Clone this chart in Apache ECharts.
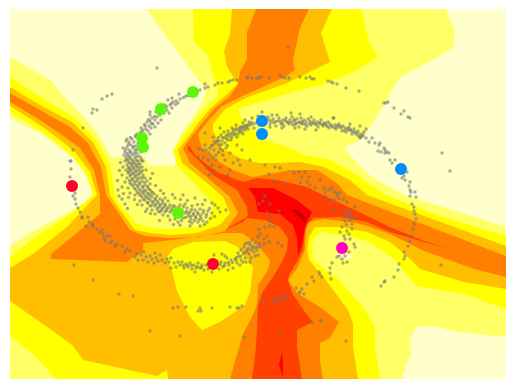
<!DOCTYPE html>
<html><head><meta charset="utf-8">
<style>html,body{margin:0;padding:0;background:#fff}#c{width:515px;height:389px}</style>
<script src="https://cdn.jsdelivr.net/npm/echarts@6/dist/echarts.min.js"></script>
</head><body><div id="c"></div>
<script>
// filled contour bands, painted from lowest level to highest
var bandBase=[[10,9],[506,9],[506,379],[10,379]];
var lightTopLeft=[[10,9],[147,9],[158,25],[165,35],[185,62],[195,76],[203,86],[206,94],[198,109],[190,122],[182,132],[175,148],[175,166],[148,165],[145,157],[123,157],[113,158],[107,150],[97,133],[85,118],[70,103],[50,80],[10,57]];
var lightRight=[[446,9],[506,9],[506,227],[404,195],[372,177],[357,163],[344,148],[357,142],[367,132],[385,103],[400,77],[427,63],[453,48],[455,32]];
var lightLeft=[[10,118],[43,135],[63,150],[80,163],[88,178],[92,195],[83,204],[60,217],[33,231],[10,246]];
var lightBottom=[[506,337],[457,332],[434,326],[417,327],[410,337],[411,354],[402,376],[404,379],[506,379]];
var lightMagenta=[[329,250],[337,254],[352,255],[352,258],[340,258]];
var yellowMain=[[193,9],[361,9],[364,22],[369,42],[378,57],[354,72],[320,85],[290,93],[257,103],[238,109],[240,116],[262,139],[290,148],[304,155],[330,160],[354,173],[385,195],[440,216],[506,236],[506,309],[464,294],[417,286],[409,277],[397,262],[385,252],[367,241],[344,235],[320,232],[315,237],[311,246],[313,260],[337,278],[363,307],[375,327],[375,347],[380,379],[56,379],[33,354],[10,336],[10,258],[30,241],[73,212],[94,195],[86,174],[72,156],[60,145],[40,130],[10,112],[10,77],[40,97],[75,118],[97,140],[110,165],[115,195],[120,205],[137,224],[155,229],[173,229],[197,227],[205,223],[213,210],[210,200],[177,165],[173,150],[184,136],[194,122],[205,109],[218,96],[218,89],[211,69],[208,56],[194,41]];
var orangeLightMain=[[232,9],[332,9],[321,33],[330,62],[285,84],[248,97],[225,109],[213,124],[213,131],[223,149],[240,158],[258,163],[277,163],[300,162],[324,167],[350,180],[367,195],[506,246],[506,289],[464,282],[420,269],[407,256],[390,242],[367,232],[340,227],[315,227],[309,237],[307,250],[309,260],[328,283],[348,310],[353,323],[353,347],[358,379],[168,379],[167,370],[157,376],[83,360],[73,346],[57,334],[33,317],[10,301],[10,268],[33,254],[67,227],[97,195],[90,172],[76,153],[63,142],[40,125],[10,106],[10,87],[40,105],[72,122],[93,142],[106,167],[110,195],[120,210],[135,230],[150,233],[170,235],[197,233],[220,225],[230,213],[223,197],[207,183],[182,163],[178,150],[189,136],[199,122],[210,109],[225,96],[238,84],[227,67],[224,51],[230,34]];
var yellowPatch=[[167,257],[173,249],[193,242],[225,241],[238,247],[253,267],[250,292],[245,305],[220,322],[202,330],[190,317],[177,291],[172,271]];
var orangeMain=[[256,9],[309,9],[300,28],[293,60],[295,70],[285,77],[247,94],[222,106],[207,122],[198,134],[202,149],[216,160],[233,170],[253,177],[290,170],[317,170],[337,183],[347,195],[506,256],[506,277],[474,269],[424,251],[390,234],[370,227],[357,223],[324,219],[309,222],[306,230],[305,250],[298,267],[288,280],[297,293],[320,307],[339,322],[330,338],[320,343],[320,360],[323,379],[230,379],[237,354],[243,334],[252,317],[257,305],[258,285],[268,270],[270,260],[255,242],[242,233],[225,233],[173,240],[143,243],[143,252],[133,257],[127,262],[51,259],[51,254],[100,214],[100,195],[94,170],[80,148],[65,137],[40,120],[10,102],[10,93],[40,110],[70,127],[88,143],[101,167],[106,195],[120,215],[130,230],[145,236],[168,238],[200,237],[225,231],[238,213],[230,197],[210,180],[190,163],[183,148],[192,136],[203,122],[214,109],[230,96],[238,84],[240,72],[247,59],[247,32]];
var redOrangeMain=[[188,145],[197,157],[217,172],[243,182],[257,178],[277,180],[307,187],[323,195],[357,211],[390,227],[424,241],[449,248],[424,242],[390,232],[367,222],[340,217],[314,218],[307,224],[305,231],[304,240],[303,250],[297,262],[290,273],[288,280],[292,293],[305,312],[313,322],[297,330],[297,347],[302,379],[252,379],[255,357],[257,330],[258,305],[262,293],[273,277],[282,262],[287,250],[288,238],[280,227],[265,220],[245,218],[238,222],[225,230],[243,222],[248,215],[247,207],[237,190],[213,175],[188,150]];
var redMain=[[248,188],[273,188],[297,200],[312,212],[305,227],[302,245],[298,256],[297,238],[293,225],[280,214],[258,212],[255,197]];
var redSliver=[[282,352],[283,363],[283,378],[279,365],[281,357]];
var darkPatch=[[291,210],[297,210],[306,217],[305,223],[300,217]];
var bandColors={base:'#FFFF66',light:'#FFFFCC',yellow:'#FFFF00',orangeLight:'#FFBF00',orange:'#FF8000',redOrange:'#FF4000',red:'#FF0000',dark:'#BF0000'};
var layers=[[bandBase,bandColors.base],[lightTopLeft,bandColors.light],[lightRight,bandColors.light],[lightLeft,bandColors.light],[lightBottom,bandColors.light],[lightMagenta,bandColors.light],[yellowMain,bandColors.yellow],[orangeLightMain,bandColors.orangeLight],[yellowPatch,bandColors.yellow],[orangeMain,bandColors.orange],[redOrangeMain,bandColors.redOrange],[redMain,bandColors.red],[redSliver,bandColors.red],[darkPatch,bandColors.dark]];

// grey sample points
var sparse=[[157,68],[112,94],[107,96],[102,99],[93,109],[97,110],[92,113],[83,128],[73,150],[70,161],[71,161],[71,169],[70,177],[75,193],[73,196],[75,199],[76,204],[78,208],[80,212],[82,217],[82,218],[88,217],[89,222],[93,226],[92,224],[86,226],[97,229],[100,232],[102,230],[103,234],[104,238],[107,236],[110,236],[105,241],[112,241],[110,243],[117,244],[122,246],[127,249],[125,252],[130,251],[137,254],[115,246],[74,265],[93,280],[119,294],[133,296],[173,308],[178,307],[186,307],[198,311],[201,311],[200,308],[212,308],[230,307],[237,308],[239,308],[242,306],[150,331],[180,336],[244,337],[300,292],[299,293],[302,289],[307,284],[314,281],[312,277],[320,274],[322,277],[319,272],[330,273],[331,279],[332,263],[296,288],[304,294],[286,296],[285,299],[279,297],[277,301],[274,301],[280,301],[263,301],[312,323],[321,321],[280,332],[346,341],[410,196],[416,197],[412,204],[414,207],[414,211],[415,214],[416,219],[414,224],[413,229],[412,236],[410,241],[408,246],[404,252],[405,256],[404,259],[399,264],[398,270],[394,277],[385,281],[384,282],[381,286],[441,265],[384,103],[386,103],[388,102],[394,108],[404,111],[401,114],[408,117],[410,118],[359,91],[346,88],[337,84],[333,83],[328,81],[331,82],[314,79],[310,77],[312,79],[306,78],[300,77],[289,78],[285,78],[282,77],[280,75],[269,78],[261,77],[259,78],[257,78],[288,47],[442,153],[450,171],[252,78],[248,77],[247,78],[237,80],[233,80],[230,81],[228,82],[222,83],[218,83],[215,85],[208,87],[205,88],[200,90],[205,84],[372,138],[369,142],[375,143],[379,145],[380,143],[385,150],[387,152],[384,148],[389,153],[378,151],[381,152],[385,153],[390,160],[395,160],[392,163],[404,176],[407,172],[402,178],[405,180],[410,182],[409,186],[410,190],[411,192],[415,192]];
var armLeft=[[197,91],[190,93],[186,96],[180,99],[176,101],[173,102],[170,105],[172,108],[167,110],[169,113],[164,113],[160,115],[157,117],[152,118],[155,120],[150,121],[147,122],[153,124],[149,126],[145,126],[151,128],[146,129],[143,130],[148,131],[140,133],[144,134],[150,115],[156,112],[150,112],[165,105],[178,103],[172,98],[179,94],[168,100],[161,120],[158,123],[155,127],[141,128],[137,134],[150,134],[136,137],[132,139],[127,139],[126,141],[129,142],[134,142],[138,143],[131,145],[136,146],[127,147],[123,148],[133,148],[139,149],[129,150],[135,151],[125,152],[131,153],[137,153],[141,152],[128,155],[133,155],[139,156],[126,157],[130,158],[135,158],[141,158],[124,155],[128,160],[133,161],[138,161],[143,161],[125,161],[130,163],[135,164],[140,164],[127,165],[132,166],[137,167],[142,167],[129,168],[134,169],[139,170],[123,167],[126,170],[131,171],[136,172],[141,172],[146,170],[128,173],[133,174],[138,175],[143,175],[122,175],[130,176],[135,177],[140,178],[145,178],[127,178],[132,180],[137,181],[142,181],[147,181],[125,182],[130,183],[135,184],[140,184],[145,185],[150,184],[133,186],[138,187],[143,188],[148,188],[128,188],[122,187],[118,190],[136,190],[141,191],[146,191],[151,191],[139,194],[144,194],[149,194],[154,194],[142,197],[147,197],[152,197],[157,196],[135,195],[130,193],[145,200],[150,200],[155,200],[160,199],[165,198],[140,201],[148,203],[153,203],[158,203],[163,203],[168,201],[122,199],[125,204],[119,196],[142,205],[150,206],[155,206],[160,206],[165,206],[170,205],[157,209],[162,209],[167,209],[172,208],[152,210],[147,209],[160,212],[165,212],[170,212],[175,207],[180,205],[185,204],[155,214],[163,215],[168,216],[182,210],[187,208],[192,206],[185,213],[190,212],[195,210],[200,209],[188,216],[193,215],[198,214],[203,213],[208,211],[183,218],[191,219],[196,218],[201,218],[206,217],[175,219],[170,220],[198,222],[203,221],[207,222],[192,223],[178,222],[205,200],[212,203],[215,205],[218,208],[212,213],[220,212],[226,210],[195,198],[175,198],[183,195],[180,225],[190,226],[200,226]];
var armLeftExtra=[[195.5,92.5],[188.5,95.5],[183.5,97.5],[175.5,104.5],[171.5,103.5],[166.5,106.5],[163.5,109.5],[158.5,113.5],[154.5,116.5],[151.5,123.5],[148.5,119.5],[144.5,124.5],[141.5,131.5],[135.5,135.5],[130.5,137.5],[128.5,144.5],[133.5,146.5],[125.5,149.5],[130.5,151.5],[136.5,149.5],[127.5,153.5],[134.5,153.5],[129.5,156.5],[136.5,156.5],[131.5,159.5],[126.5,159.5],[136.5,160.5],[141.5,160.5],[128.5,162.5],[133.5,162.5],[138.5,163.5],[131.5,164.5],[136.5,165.5],[128.5,167.5],[133.5,167.5],[139.5,167.5],[130.5,169.5],[136.5,170.5],[142.5,170.5],[128.5,171.5],[133.5,172.5],[139.5,173.5],[130.5,174.5],[135.5,175.5],[142.5,177.5],[137.5,178.5],[132.5,178.5],[129.5,180.5],[134.5,181.5],[139.5,182.5],[144.5,182.5],[131.5,184.5],[137.5,185.5],[142.5,186.5],[147.5,186.5],[134.5,188.5],[139.5,189.5],[144.5,190.5],[149.5,189.5],[137.5,192.5],[142.5,192.5],[147.5,193.5],[152.5,192.5],[140.5,195.5],[145.5,196.5],[150.5,195.5],[155.5,198.5],[143.5,199.5],[148.5,198.5],[152.5,201.5],[157.5,201.5],[162.5,200.5],[147.5,202.5],[155.5,204.5],[160.5,204.5],[165.5,204.5],[151.5,205.5],[158.5,207.5],[163.5,207.5],[168.5,207.5],[173.5,205.5],[178.5,207.5],[183.5,206.5],[161.5,210.5],[166.5,210.5],[171.5,210.5],[176.5,210.5],[186.5,211.5],[191.5,209.5],[158.5,211.5],[181.5,213.5],[188.5,213.5],[193.5,213.5],[197.5,212.5],[203.5,210.5],[185.5,217.5],[190.5,216.5],[195.5,216.5],[200.5,215.5],[206.5,214.5],[181.5,220.5],[189.5,221.5],[194.5,220.5],[199.5,219.5],[210.5,218.5],[214.5,216.5],[204.5,224.5],[120.5,162.5],[119.5,170.5],[117.5,180.5],[123.5,193.5],[128.5,197.5],[134.5,199.5],[137.5,204.5],[127.5,208.5],[145.5,211.5],[150.5,213.5],[163.5,193.5],[172.5,194.5],[180.5,199.5],[187.5,200.5],[197.5,204.5],[202.5,204.5],[209.5,208.5],[159.5,220.5],[173.5,224.5],[152.5,173.5],[150.5,178.5],[155.5,185.5],[160.5,190.5]];
var armCentre=[[256,123],[253,124],[250,125],[247,126],[244,127],[241,128],[248,129],[245,130],[242,131],[239,131],[236,130],[233,132],[238,134],[235,135],[232,135],[229,136],[226,136],[240,127],[243,123],[236,125],[232,128],[228,131],[224,132],[221,135],[224,138],[228,140],[219,141],[222,141],[216,143],[213,145],[219,145],[225,143],[231,140],[237,137],[243,134],[249,122],[245,120],[252,118],[258,116],[254,128],[220,128],[213,137],[210,148],[206,150],[203,150],[214,150],[220,149],[226,148],[211,155],[216,155],[208,160],[223,155],[230,153],[216,160],[225,160],[205,145],[199,149],[198,157],[203,158],[212,165],[207,168],[233,163],[220,167],[230,170],[238,160],[242,150],[237,145],[209,175],[214,172],[228,175],[205,133],[240,165],[250,160],[265,165],[275,167],[280,168],[269,174],[273,180],[285,183],[294,173],[299,172],[305,172],[302,177],[309,177],[307,182],[300,183],[310,185],[320,180],[315,188],[324,188],[329,190],[334,192],[332,188],[337,193],[340,193],[325,192],[251.5,122.5],[248.5,124.5],[245.5,125.5],[242.5,126.5],[246.5,127.5],[239.5,129.5],[243.5,128.5],[236.5,128.5],[233.5,129.5],[240.5,132.5],[234.5,133.5],[230.5,133.5],[227.5,134.5],[231.5,137.5],[226.5,138.5],[222.5,137.5],[218.5,137.5],[217.5,140.5],[214.5,141.5],[211.5,145.5],[221.5,144.5],[227.5,145.5],[208.5,152.5],[218.5,152.5],[213.5,157.5],[222.5,150.5]];
var armTop=[[266,122],[269,120],[270,124],[273,119],[274,123],[276,126],[278,121],[279,118],[281,124],[283,120],[284,126],[286,118],[287,122],[289,124],[290,120],[292,117],[293,125],[294,121],[296,123],[297,119],[299,127],[300,122],[301,118],[303,124],[304,120],[306,122],[307,126],[308,119],[310,121],[311,125],[312,123],[314,120],[315,124],[317,122],[318,127],[320,124],[321,120],[323,126],[324,123],[326,125],[328,122],[329,128],[330,124],[332,127],[333,118],[335,125],[336,129],[338,127],[339,124],[341,128],[342,131],[343,126],[345,128],[346,132],[348,130],[349,127],[351,131],[352,134],[354,129],[355,133],[357,135],[358,131],[360,134],[361,137],[363,136],[364,132],[360,138],[366,138],[262,112],[272,115],[291,113],[300,114],[311,117],[334,118],[350,124],[360,126],[366,129],[270,127],[282,128],[295,128],[305,129],[316,130],[268,117],[277,115],[271.5,121.5],[275.5,121.5],[280.5,121.5],[282.5,123.5],[285.5,120.5],[288.5,122.5],[291.5,122.5],[294.5,119.5],[295.5,124.5],[298.5,122.5],[301.5,123.5],[302.5,121.5],[305.5,124.5],[309.5,123.5],[313.5,122.5],[316.5,124.5],[319.5,122.5],[322.5,124.5],[325.5,123.5],[327.5,126.5],[331.5,125.5],[334.5,127.5],[337.5,125.5],[340.5,126.5],[344.5,130.5],[347.5,128.5],[350.5,129.5],[353.5,131.5],[356.5,132.5],[359.5,136.5],[362.5,134.5]];
var clusterRight=[[325,196],[337,196],[339,199],[329,201],[347,202],[335,209],[345,211],[350,212],[355,207],[347,214],[343,217],[350,220],[355,218],[345,221],[352,224],[342,227],[347,231],[352,229],[345,239],[349,234],[340,232],[350,239],[354,244],[344,236],[355,247],[349,252],[345,256],[339,256],[337,257],[342,259],[347,262],[343,263],[330,268],[265,196],[259,204],[263,201],[270,204],[267,212],[279,211],[272,217],[270,221],[259,229],[265,227],[270,226],[274,227],[260,234],[267,236],[264,239],[269,242],[259,244],[264,244],[278,243],[282,246],[257,247],[258,237],[348.5,215.5],[351.5,217.5],[346.5,224.5],[343.5,199.5],[333.5,199.5]];
var armBottom=[[135,257],[138,260],[141,255],[143,260],[146,257],[148,262],[150,256],[152,259],[154,263],[156,258],[158,261],[160,255],[162,260],[165,263],[167,259],[169,262],[171,258],[174,263],[176,267],[178,262],[180,265],[182,262],[184,268],[186,264],[188,267],[190,263],[192,269],[194,265],[196,268],[198,263],[200,268],[202,265],[204,270],[206,265],[208,269],[210,262],[217,265],[219,269],[221,262],[223,267],[225,263],[227,258],[229,265],[231,260],[233,268],[235,259],[237,263],[239,256],[241,260],[243,254],[245,258],[247,250],[249,254],[251,258],[253,248],[240,265],[228,270],[212,272],[195,272],[171,268],[155,253],[144,252],[244,247],[247,243],[250,245],[252,240],[255,243],[247,252],[251,250],[254,252],[257,250],[245,244],[241,250],[238,253],[260,247],[255,256],[258,255],[250,262],[246,262],[236,260],[243,262],[225,256],[214,255],[222,254],[183.5,265.5],[187.5,265.5],[191.5,265.5],[197.5,266.5],[201.5,267.5],[220.5,264.5],[224.5,265.5],[228.5,262.5],[232.5,262.5],[236.5,257.5],[240.5,256.5],[244.5,252.5],[248.5,248.5],[252.5,246.5],[249.5,242.5],[255.5,247.5]];
var samples=sparse.concat(armLeft,armLeftExtra,armCentre,armTop,clusterRight,armBottom);

// large labelled points
var greenPts=[[193,92],[161,109],[142,138],[143,147],[178,213]];
var bluePts=[[262,121],[262,134],[401,169]];
var redPts=[[72,186],[213,264]];
var magentaPts=[[342,248]];

var series=[{type:'custom',coordinateSystem:'cartesian2d',silent:true,clip:true,animation:false,z:1,
  data:layers.map(function(l,i){return [l[0][0][0],l[0][0][1],i];}),
  renderItem:function(p,api){
    var l=layers[api.value(2)];
    return {type:'polygon',shape:{points:l[0].map(function(q){return api.coord(q);})},style:{fill:l[1],stroke:null}};
  }},
 {type:'scatter',data:samples,symbolSize:3.4,z:3,silent:true,animation:false,large:false,itemStyle:{color:'#757575',opacity:0.6}}];
[[greenPts,'#5FF50A'],[bluePts,'#008CFF'],[redPts,'#FF0030'],[magentaPts,'#FF00BF']].forEach(function(s){
  series.push({type:'scatter',data:s[0],symbolSize:12,z:4,silent:true,animation:false,itemStyle:{color:s[1],opacity:1}});
});
var chart=echarts.init(document.getElementById('c'),null,{renderer:'canvas'});
chart.setOption({animation:false,backgroundColor:'#fff',
 grid:{left:10,right:9,top:9,bottom:10},
 xAxis:{type:'value',min:10,max:506,show:false},
 yAxis:{type:'value',min:9,max:379,inverse:true,show:false},
 series:series});
</script></body></html>
